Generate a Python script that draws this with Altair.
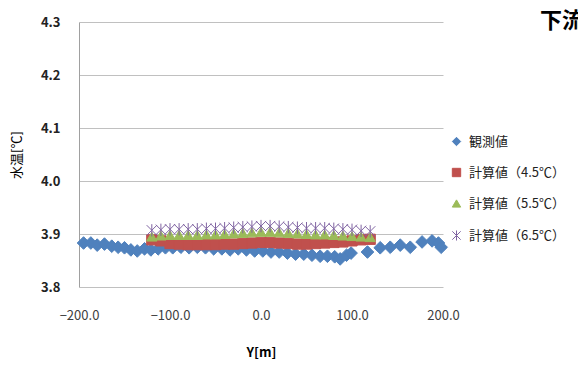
import altair as alt
import pandas as pd

# Observed water temperature across the section
obs_y = [-195, -187, -180, -172, -164, -157, -150, -143, -136, -128, -121, -113,
         -105, -97, -88, -79, -70, -61, -52, -43, -34, -25, -16, -7, 2, 11, 20,
         29, 38, 47, 56, 65, 73, 81, 87, 94, 99, 117, 131, 142, 153, 164, 177,
         188, 195, 198]
obs_t = [3.883, 3.883, 3.879, 3.881, 3.877, 3.875, 3.874, 3.870, 3.868, 3.872,
         3.870, 3.872, 3.874, 3.874, 3.875, 3.874, 3.875, 3.874, 3.872, 3.872,
         3.870, 3.872, 3.870, 3.868, 3.868, 3.866, 3.866, 3.864, 3.862, 3.862,
         3.860, 3.858, 3.858, 3.857, 3.853, 3.860, 3.864, 3.866, 3.874, 3.875,
         3.879, 3.875, 3.885, 3.887, 3.883, 3.875]

# Computed profiles for three boundary temperatures
calc_y = [-120, -110, -100, -90, -80, -70, -60, -50, -40, -30, -20, -10, 0,
          10, 20, 30, 40, 50, 60, 70, 80, 90, 100, 110, 120]
calc_45 = [3.889, 3.887, 3.882, 3.881, 3.880, 3.880, 3.880, 3.880, 3.881, 3.881,
           3.882, 3.883, 3.884, 3.884, 3.883, 3.882, 3.881, 3.881, 3.882, 3.883,
           3.884, 3.885, 3.887, 3.889, 3.890]
calc_55 = [3.895, 3.897, 3.898, 3.898, 3.898, 3.898, 3.899, 3.899, 3.900, 3.901,
           3.902, 3.903, 3.904, 3.904, 3.903, 3.902, 3.901, 3.900, 3.899, 3.899,
           3.898, 3.897, 3.896, 3.895, 3.894]
calc_65 = [3.907, 3.908, 3.909, 3.909, 3.909, 3.909, 3.910, 3.910, 3.911, 3.912,
           3.913, 3.914, 3.915, 3.915, 3.914, 3.913, 3.912, 3.911, 3.911, 3.911,
           3.910, 3.909, 3.908, 3.906, 3.905]

series = ["観測値", "計算値（4.5℃）", "計算値（5.5℃）", "計算値（6.5℃）"]
fills = ["#4f81bd", "#c0504d", "#9bbb59", "transparent"]
strokes = ["#4f81bd", "#c0504d", "#9bbb59", "#8064a2"]
asterisk = "M-1,-1L1,1M-1,1L1,-1M0,-1.2L0,1.2"
shapes = ["diamond", "square", "triangle-up", asterisk]

obs = pd.DataFrame({"y": obs_y, "t": obs_t, "s": series[0]})
calc = pd.concat([
    pd.DataFrame({"y": calc_y, "t": calc_45, "s": series[1]}),
    pd.DataFrame({"y": calc_y, "t": calc_55, "s": series[2]}),
    pd.DataFrame({"y": calc_y, "t": calc_65, "s": series[3]}),
])

FONT = "Noto Sans CJK JP"

x_enc = alt.X(
    "y:Q",
    scale=alt.Scale(domain=[-200, 200], nice=False),
    axis=alt.Axis(values=[-200, -100, 0, 100, 200], format=".1f", title="Y[m]",
                  grid=False, domain=False, ticks=False, labelFlush=False,
                  labelFontSize=13, labelColor="#404040", labelFont=FONT,
                  labelPadding=22, titleFont=FONT, titleFontSize=13,
                  titleFontWeight="bold", titleColor="#000000", titlePadding=24),
)
y_enc = alt.Y(
    "t:Q",
    scale=alt.Scale(domain=[3.8, 4.3], nice=False, zero=False),
    axis=alt.Axis(values=[3.8, 3.9, 4.0, 4.1, 4.2, 4.3], format=".1f",
                  title="水温[℃]", grid=True, gridColor="#c0c0c0",
                  domain=True, domainColor="#a0a0a0", ticks=False,
                  labelFlush=False, labelFontSize=13, labelFontWeight="bold",
                  labelColor="#222222", labelFont=FONT, labelPadding=19,
                  titleFont=FONT, titleFontSize=13, titleFontWeight="normal",
                  titleColor="#000000", titlePadding=17),
)
fill_enc = alt.Fill("s:N", scale=alt.Scale(domain=series, range=fills),
                    legend=alt.Legend(title=None))
stroke_enc = alt.Stroke("s:N", scale=alt.Scale(domain=series, range=strokes),
                        legend=alt.Legend(title=None))
shape_enc = alt.Shape("s:N", scale=alt.Scale(domain=series, range=shapes),
                      legend=alt.Legend(title=None))

obs_layer = alt.Chart(obs).mark_point(
    filled=False, size=160, strokeWidth=1, opacity=1
).encode(x=x_enc, y=y_enc, fill=fill_enc, stroke=stroke_enc, shape=shape_enc)

calc_layer = alt.Chart(calc).mark_point(
    filled=False, size=105, strokeWidth=1, opacity=1
).encode(x=x_enc, y=y_enc, fill=fill_enc, stroke=stroke_enc, shape=shape_enc)

title_layer = alt.Chart(pd.DataFrame({"label": ["下流端"]})).mark_text(
    align="left", baseline="middle", fontSize=22, fontWeight="bold",
    font=FONT, color="#000000"
).encode(x=alt.value(461), y=alt.value(-1), text="label:N")

chart = alt.layer(obs_layer, calc_layer, title_layer).properties(
    width=364, height=265,
    autosize=alt.AutoSizeParams(type="none"),
    padding={"left": 79, "top": 22, "right": 135, "bottom": 78},
).configure_view(stroke=None).configure_legend(
    orient="none", legendX=371, legendY=113, padding=0,
    labelFont=FONT, labelFontSize=13, labelColor="#222222",
    symbolSize=70, rowPadding=17, labelOffset=6, symbolStrokeWidth=1,
)

chart.save("out.html", embed_options={"renderer": "svg", "actions": False})
